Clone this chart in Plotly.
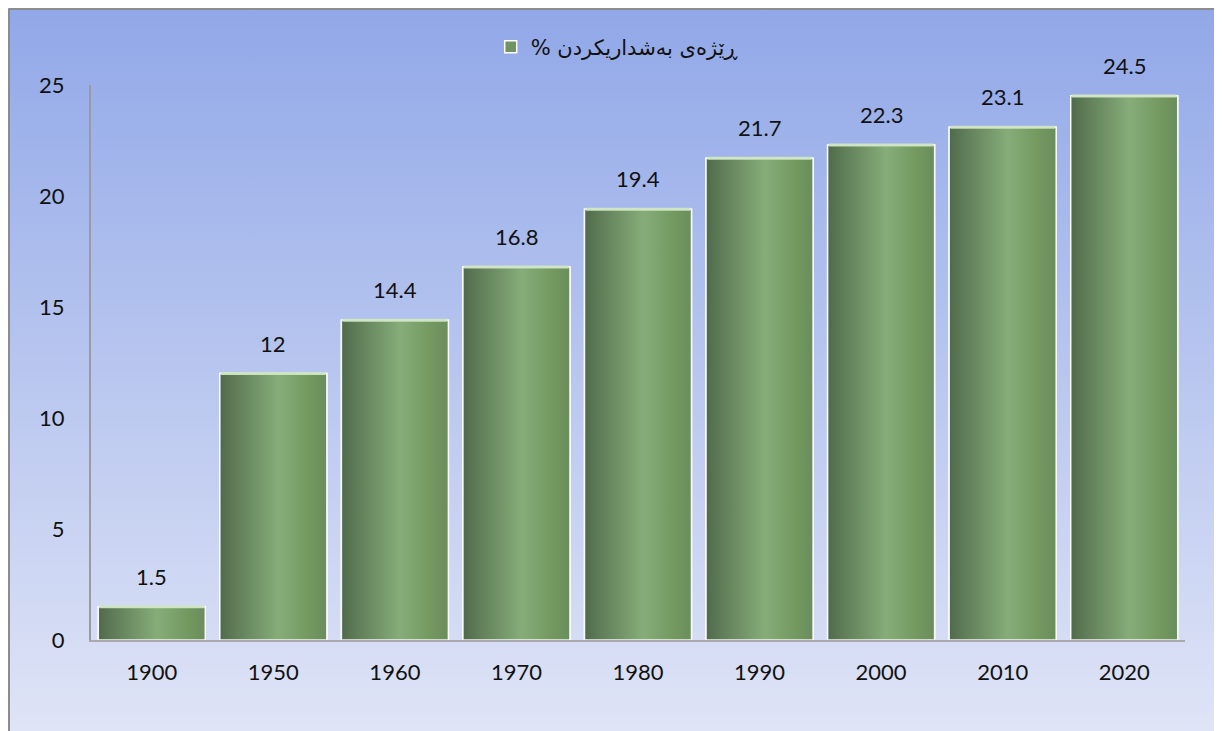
import base64
import plotly.graph_objects as go

years = ["1900", "1950", "1960", "1970", "1980", "1990", "2000", "2010", "2020"]
values = [1.5, 12, 14.4, 16.8, 19.4, 21.7, 22.3, 23.1, 24.5]
series_name = "\u200fڕێژەی بەشداریکردن %\u200f"
y_ticks = [0, 5, 10, 15, 20, 25]

W, H = 1214, 723
ML, MR, MT, MB = 83, 37, 77, 91
PW, PH = W - ML - MR, H - MT - MB
BAR_W = 0.88

num_font = "Lato, 'Open Sans', sans-serif"

fig = go.Figure()

idx = list(range(len(years)))
fig.add_trace(go.Bar(
    x=idx, y=values, width=BAR_W, name=series_name,
    marker=dict(color="#6f9462", line=dict(color="white", width=1.5)),
    showlegend=True,
))

# cylinder shading
for i, v in zip(idx, values):
    x0, x1 = i - BAR_W / 2, i + BAR_W / 2
    fig.add_trace(go.Scatter(
        x=[x0, x0, x1, x1, x0], y=[0, v, v, 0, 0],
        mode="lines", fill="toself",
        line=dict(color="rgba(255,255,255,0.9)", width=1.5),
        fillgradient=dict(type="horizontal", colorscale=[
            [0.0, "#4f6a4b"], [0.12, "#5d7a56"], [0.55, "#86ad79"],
            [0.85, "#72985f"], [1.0, "#6a8d5c"]]),
        hoverinfo="skip", showlegend=False,
    ))
    fig.add_trace(go.Scatter(
        x=[x0 + 0.01, x1 - 0.01], y=[v, v], mode="lines",
        line=dict(color="rgba(205,228,195,0.95)", width=3),
        hoverinfo="skip", showlegend=False,
    ))

annotations = [
    dict(x=i, y=v, xref="x", yref="y", text=f"{v:g}", showarrow=False,
         yanchor="bottom", yshift=15,
         font=dict(family=num_font, size=22, color="#111111"))
    for i, v in zip(idx, values)
]

svg = f'''<svg xmlns="http://www.w3.org/2000/svg" width="{W}" height="{H}" preserveAspectRatio="none">
<defs><linearGradient id="g" x1="0" y1="0" x2="0" y2="1">
<stop offset="0" stop-color="#91a8e8"/><stop offset="1" stop-color="#dfe4f6"/></linearGradient></defs>
<rect width="{W}" height="{H}" fill="url(#g)"/></svg>'''
src = "data:image/svg+xml;base64," + base64.b64encode(svg.encode()).decode()

fig.update_layout(
    width=W, height=H,
    margin=dict(l=ML, r=MR, t=MT, b=MB),
    paper_bgcolor="#c0cbef", plot_bgcolor="rgba(0,0,0,0)",
    barmode="overlay", bargap=0.12,
    annotations=annotations,
    images=[dict(source=src, xref="paper", yref="paper",
                 x=-ML / PW, y=1 + MT / PH, sizex=W / PW, sizey=H / PH,
                 xanchor="left", yanchor="top", sizing="stretch", layer="below")],
    legend=dict(orientation="h", x=0.481, xanchor="center", y=1 + (MT - 39) / PH,
                yanchor="middle", bgcolor="rgba(0,0,0,0)", itemwidth=30,
                font=dict(family="'DejaVu Sans', sans-serif", size=21, color="#111111")),
    xaxis=dict(range=[-0.5, len(years) - 0.5], tickmode="array", tickvals=idx, ticktext=years,
               showgrid=False, zeroline=False, showline=True, linecolor="#a8a8b0", linewidth=2,
               ticks="", ticklabelstandoff=12,
               tickfont=dict(family=num_font, size=22, color="#111111"), fixedrange=True),
    yaxis=dict(range=[0, 25], tickvals=y_ticks, showgrid=False, zeroline=False,
               showline=True, linecolor="#9a9aa4", linewidth=2, ticks="",
               ticklabelstandoff=20,
               tickfont=dict(family=num_font, size=22, color="#111111"), fixedrange=True),
    shapes=[
        dict(type="line", xref="paper", yref="paper", x0=-(ML - 1) / PW, x1=-(ML - 1) / PW,
             y0=1 + (MT - 1) / PH, y1=-MB / PH - 0.01, line=dict(color="#8c8c8c", width=2)),
        dict(type="line", xref="paper", yref="paper", x0=-(ML - 1) / PW, x1=1 + MR / PW,
             y0=1 + (MT - 1) / PH, y1=1 + (MT - 1) / PH, line=dict(color="#8c8c8c", width=2)),
    ],
)

fig.write_html("out.html")
